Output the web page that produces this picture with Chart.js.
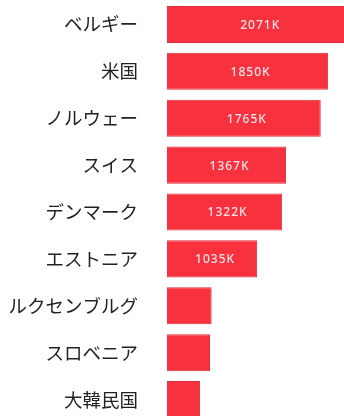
<!DOCTYPE html>
<html>
<head>
<meta charset="utf-8">
<script src="https://cdn.jsdelivr.net/npm/chart.js@4"></script>
<style>
  html, body { margin: 0; padding: 0; background: #fff; overflow: hidden; }
  #chartRanking { position: absolute; left: 0; top: 1px; }
</style>
</head>
<body>
<canvas id="chartRanking" width="344" height="422" style="width:344px;height:422px"></canvas>
<script>
var countries = ['ベルギー', '米国', 'ノルウェー', 'スイス', 'デンマーク', 'エストニア', 'ルクセンブルグ', 'スロベニア', '大韓民国'];
var values = [2071, 1850, 1765, 1367, 1322, 1035, 513, 494, 380];
var valueLabels = ['2071K', '1850K', '1765K', '1367K', '1322K', '1035K', '513K', '494K', '380K'];

var barLabels = {
    id: 'barLabels',
    afterDatasetsDraw: function(chart) {
        var ctx = chart.ctx;
        var meta = chart.getDatasetMeta(0);
        var area = chart.chartArea;
        ctx.save();
        ctx.font = '500 12px "Noto Sans", sans-serif';
        ctx.letterSpacing = '1px';
        ctx.fillStyle = 'rgba(255,238,238,0.95)';
        ctx.textAlign = 'center';
        ctx.textBaseline = 'middle';
        meta.data.forEach(function(bar, i) {
            var left = bar.base;
            var right = Math.min(bar.x, area.right);
            var txt = valueLabels[i];
            if (right - left < ctx.measureText(txt).width + 30) return;
            ctx.fillText(txt, (bar.base + bar.x) / 2 + 3, bar.y + 1);
        });
        ctx.restore();
    }
};

var config = {
    type: 'bar',
    data: {
        labels: countries,
        datasets: [{
            data: values,
            backgroundColor: '#f8313f',
            borderColor: '#dc2f3a',
            borderWidth: 1,
            categoryPercentage: 1,
            barPercentage: 0.79
        }]
    },
    options: {
        indexAxis: 'y',
        responsive: false,
        animation: false,
        layout: { padding: 0 },
        plugins: {
            legend: { display: false },
            tooltip: { enabled: false }
        },
        scales: {
            x: {
                display: false,
                min: 0,
                max: 2032
            },
            y: {
                grid: { display: false, drawTicks: false },
                border: { display: false },
                ticks: {
                    padding: 29,
                    color: '#222',
                    font: { family: '"Noto Sans CJK JP"', size: 18.5 }
                },
                afterFit: function(scale) {
                    scale.width = 167;
                    scale.paddingTop = 0;
                    scale.paddingBottom = 0;
                }
            }
        }
    },
    plugins: [barLabels]
};

new Chart(document.querySelector('#chartRanking').getContext('2d'), config);
</script>
</body>
</html>
